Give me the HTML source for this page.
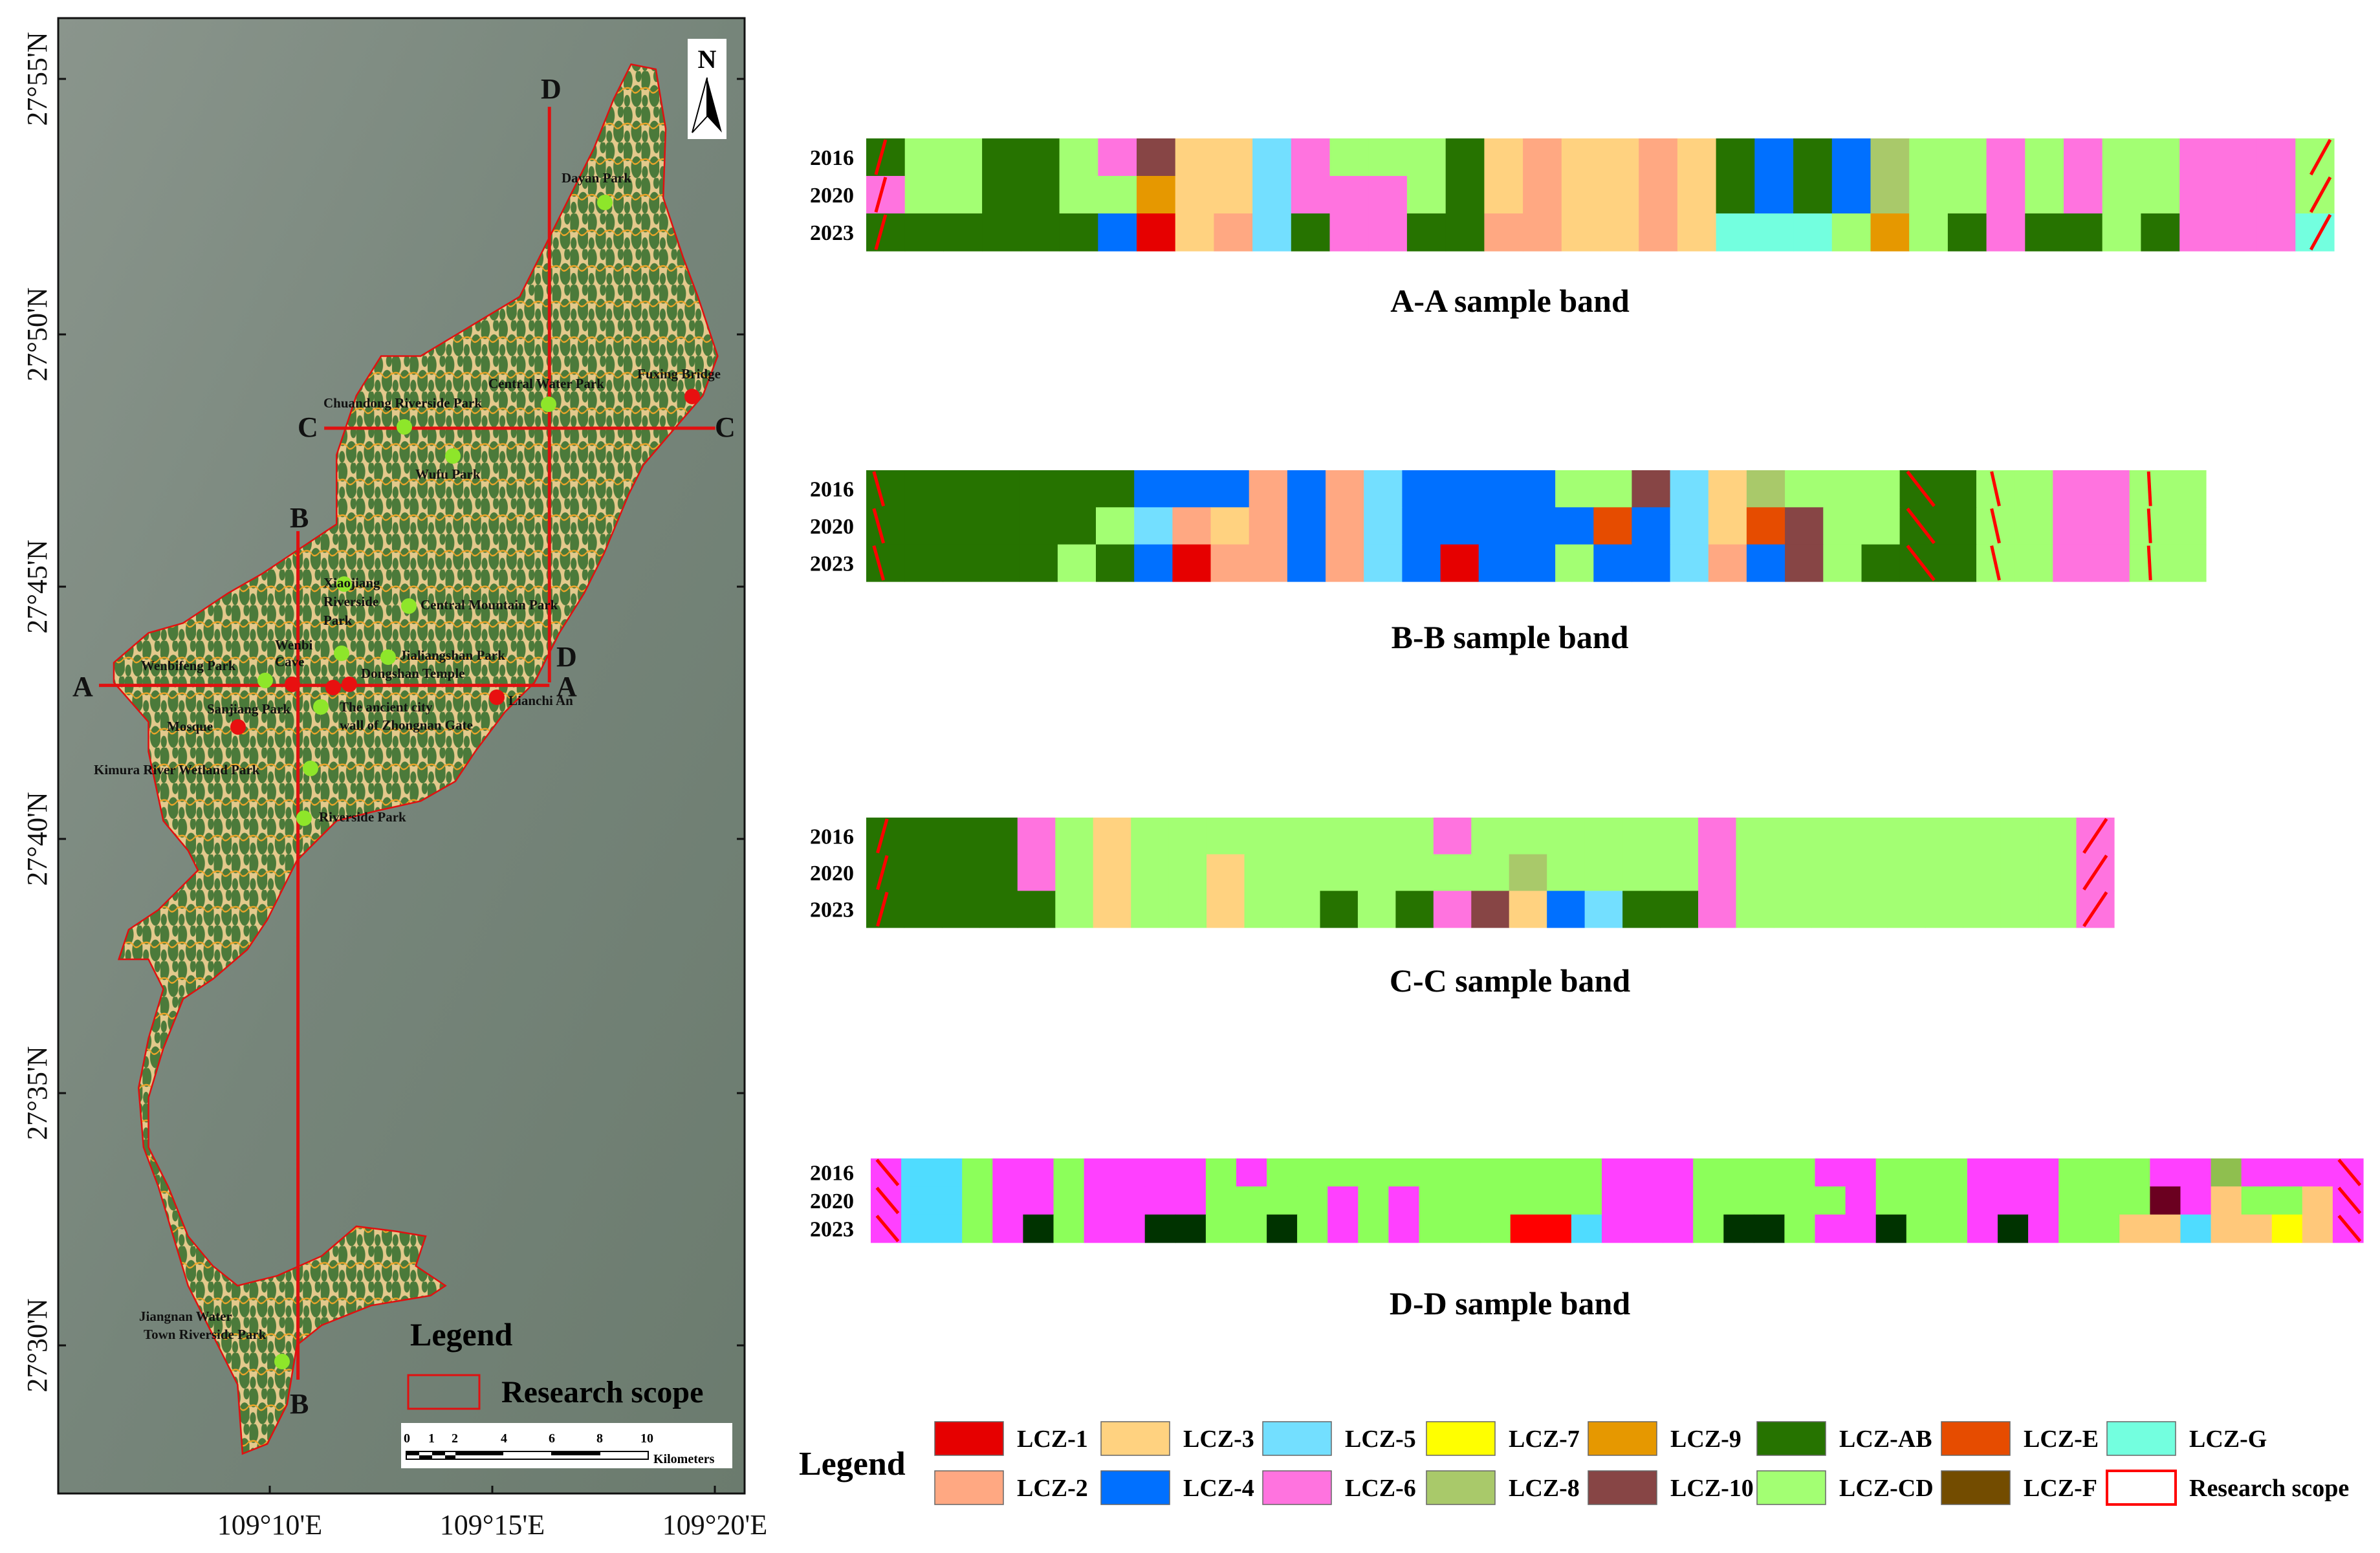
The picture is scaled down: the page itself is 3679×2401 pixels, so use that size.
<!DOCTYPE html>
<html><head><meta charset="utf-8">
<style>
html,body{margin:0;padding:0;background:#fff;}
body{width:3679px;height:2396px;overflow:hidden;position:relative;font-family:"Liberation Serif",serif;}
svg text{font-family:"Liberation Serif",serif;}
</style></head>
<body>
<svg id="root" width="3679" height="2396" viewBox="0 0 3679 2396" xmlns="http://www.w3.org/2000/svg">
<defs>
<pattern id="lcz" width="36" height="36" patternUnits="userSpaceOnUse">
<rect width="36" height="36" fill="#e3c98c"/>
<circle cx="8" cy="9" r="10" fill="#4b7a3a"/>
<circle cx="26" cy="25" r="11" fill="#4b7a3a"/>
<circle cx="30" cy="5" r="6" fill="#4b7a3a"/>
<circle cx="7" cy="30" r="6" fill="#4b7a3a"/>
<path d="M0 18 Q12 15 18 20 T36 17" stroke="#f0a528" stroke-width="1.6" fill="none"/>
</pattern>
<linearGradient id="sat" x1="0" y1="0" x2="1" y2="1">
<stop offset="0" stop-color="#8a958c"/><stop offset="0.5" stop-color="#76857a"/><stop offset="1" stop-color="#6b7b6e"/>
</linearGradient>
</defs>

<!-- ============ MAP ============ -->
<g id="map">
<rect x="90" y="28" width="1061" height="2281" fill="url(#sat)" stroke="#111" stroke-width="3"/>
<g transform="scale(0.7651,1.529)">
<polygon fill="url(#lcz)" stroke="#e01010" stroke-width="2.5" vector-effect="non-scaling-stroke"
points="1275,65 1325,70 1345,130 1340,200 1380,260 1410,300 1450,360 1420,400 1300,470 1270,500 1220,560 1180,600 1130,640 1080,690 1020,720 960,760 920,790 850,810 760,820 680,830 620,860 600,870 570,900 540,930 500,960 430,990 370,1010 330,1060 300,1110 300,1160 340,1200 380,1250 430,1280 480,1300 560,1290 650,1270 720,1240 800,1245 860,1250 840,1280 900,1300 870,1310 750,1320 700,1330 650,1340 600,1360 580,1420 540,1460 490,1470 480,1400 450,1370 420,1340 380,1300 350,1250 320,1200 290,1160 280,1100 300,1050 330,1000 300,970 240,970 260,940 320,920 400,880 380,860 330,830 300,760 300,730 230,690 230,670 300,640 370,630 460,600 530,580 590,560 680,530 680,460 720,400 770,360 850,360 950,330 1050,300 1100,250 1150,200 1200,150 1240,100"/>
<g stroke="#e01010" stroke-width="5" vector-effect="non-scaling-stroke" fill="none">
<line x1="200" y1="693" x2="1110" y2="693" vector-effect="non-scaling-stroke"/>
<line x1="602" y1="537" x2="602" y2="1395" vector-effect="non-scaling-stroke"/>
<line x1="655" y1="433" x2="1445" y2="433" vector-effect="non-scaling-stroke"/>
<line x1="1110" y1="108" x2="1110" y2="690" vector-effect="non-scaling-stroke"/>
</g>
</g>
<g font-weight="bold" font-size="44" fill="#111">
<text x="112" y="1076">A</text><text x="860" y="1076">A</text>
<text x="448" y="815">B</text><text x="448" y="2185">B</text>
<text x="460" y="675">C</text><text x="1105" y="675">C</text>
<text x="836" y="152">D</text><text x="860" y="1030">D</text>
</g>
<g id="poi"></g>
<!-- north arrow -->
<g>
<rect x="1063" y="60" width="60" height="155" fill="#fff"/>
<text x="1093" y="105" text-anchor="middle" font-weight="bold" font-size="40">N</text>
<polygon points="1093,120 1070,205 1093,180" fill="#fff" stroke="#000" stroke-width="2"/>
<polygon points="1093,120 1116,205 1093,180" fill="#000"/>
</g>
<!-- map legend -->
<text x="634" y="2080" font-weight="bold" font-size="50">Legend</text>
<rect x="631" y="2126" width="110" height="52" fill="none" stroke="#e01010" stroke-width="3"/>
<text x="775" y="2168" font-weight="bold" font-size="48">Research scope</text>
<g>
<rect x="620" y="2200" width="512" height="70" fill="#fff"/>
<rect x="628" y="2244" width="374" height="12" fill="#fff" stroke="#000" stroke-width="2"/>
<rect x="628" y="2244" width="20" height="6" fill="#000"/><rect x="668" y="2244" width="20" height="6" fill="#000"/>
<rect x="648" y="2250" width="20" height="6" fill="#000"/><rect x="688" y="2250" width="16" height="6" fill="#000"/>
<rect x="704" y="2244" width="74" height="6" fill="#000"/><rect x="852" y="2244" width="76" height="6" fill="#000"/>
<g font-size="20" font-weight="bold"><text x="624" y="2230">0</text><text x="662" y="2230">1</text><text x="698" y="2230">2</text><text x="774" y="2230">4</text><text x="848" y="2230">6</text><text x="922" y="2230">8</text><text x="990" y="2230">10</text><text x="1010" y="2262">Kilometers</text></g>
</g>
<g id="mapticks" font-size="44" fill="#111"></g>
</g>

<!-- ============ BANDS ============ -->
<g id="bands"></g>

<!-- ============ LEGEND ============ -->
<g id="legend">
<text x="1235" y="2280" font-weight="bold" font-size="52">Legend</text>
</g>
</svg>

<script>
// ---------- Band data (column class codes per year) ----------
const years = ["2016","2020","2023"];
const bandA2016 = "AB CD CD AB AB CD 6 10 3 3 5 6 CD CD CD AB 3 2 3 3 2 3 AB 4 AB 4 8 CD CD 6 CD 6 CD CD 6 6 6 CD".split(" ");
const bandA2020 = "6 CD CD AB AB CD CD 9 3 3 5 6 6 6 CD AB 3 2 3 3 2 3 AB 4 AB 4 8 CD CD 6 CD 6 CD CD 6 6 6 CD".split(" ");
const bandA2023 = "AB AB AB AB AB AB 4 1 3 2 5 AB 6 6 AB AB 2 2 3 3 2 3 G G G CD 9 CD AB 6 AB AB CD AB 6 6 6 G".split(" ");
const bandB2016 = "AB AB AB AB AB AB AB 4 4 4 2 4 2 5 4 4 4 4 CD CD 10 5 3 8 CD CD CD AB AB CD CD 6 6 CD CD".split(" ");
const bandB2020 = "AB AB AB AB AB AB CD 5 2 3 2 4 2 5 4 4 4 4 4 E 4 5 3 E 10 CD CD AB AB CD CD 6 6 CD CD".split(" ");
const bandB2023 = "AB AB AB AB AB CD AB 4 1 2 2 4 2 5 4 1 4 4 CD 4 4 5 2 4 10 CD AB AB AB CD CD 6 6 CD CD".split(" ");
const bandC2016 = "AB AB AB AB 6 CD 3 CD CD CD CD CD CD CD CD 6 CD CD CD CD CD CD 6 CD CD CD CD CD CD CD CD CD 6".split(" ");
const bandC2020 = "AB AB AB AB 6 CD 3 CD CD 3 CD CD CD CD CD CD CD 8 CD CD CD CD 6 CD CD CD CD CD CD CD CD CD 6".split(" ");
const bandC2023 = "AB AB AB AB AB CD 3 CD CD 3 CD CD AB CD AB 6 10 3 4 5 AB AB 6 CD CD CD CD CD CD CD CD CD 6".split(" ");
const bandD2016 = "P S S N P P N P P P P N P N N N N N N N N N N N P P P N N N N P P N N N P P P N N N P P V P P P P".split(" ");
const bandD2020 = "P S S N P P N P P P P N N N N P N P N N N N N N P P P N N N N N P N N N P P P N N N M P O N N O P".split(" ");
const bandD2023 = "P S S N P K N P P K K N N K N P N P N N N R R S P P P N K K N P P K N N P K P N N O O S O O Y O P".split(" ");
const bandTitles = ["A-A sample band","B-B sample band","C-C sample band","D-D sample band"];
const legendCodes = ["1","3","5","7","9","AB","E","G","2","4","6","8","10","CD","F","RS"];
const legendLabels = ["LCZ-1","LCZ-3","LCZ-5","LCZ-7","LCZ-9","LCZ-AB","LCZ-E","LCZ-G","LCZ-2","LCZ-4","LCZ-6","LCZ-8","LCZ-10","LCZ-CD","LCZ-F","Research scope"];

const palette = {"1":"#e60000","2":"#ffa882","3":"#ffd280","4":"#0070ff","5":"#73dfff","6":"#ff73df","7":"#ffff00","8":"#a9c96a","9":"#e69800","10":"#874545","AB":"#267300","CD":"#a3ff73","E":"#e64c00","F":"#734c00","G":"#73ffdf",
 "P":"#ff40ff","S":"#4fdcff","N":"#8cff5a","K":"#003300","O":"#ffc87a","M":"#6b0020","V":"#8fbf4f","R":"#ff0000","Y":"#ffff00"};

const NS="http://www.w3.org/2000/svg";
function mk(tag,attrs,parent){const e=document.createElementNS(NS,tag);for(const k in attrs)e.setAttribute(k,attrs[k]);if(parent)parent.appendChild(e);return e;}

const bandsG=document.getElementById('bands');
const bandLayout=[
 {x0:1339,x1:3608,y0:214,y1:388,title:465,data:[bandA2016,bandA2020,bandA2023],marks:[[0.25,0.5],[37.4,37.9]]},
 {x0:1339,x1:3410,y0:727,y1:899,title:985,data:[bandB2016,bandB2020,bandB2023],marks:[[0.2,0.45],[27.2,27.9],[29.4,29.6],[33.5,33.55]]},
 {x0:1339,x1:3268,y0:1264,y1:1434,title:1516,data:[bandC2016,bandC2020,bandC2023],marks:[[0.3,0.55],[32.2,32.8]]},
 {x0:1346,x1:3653,y0:1791,y1:1921,title:2015,data:[bandD2016,bandD2020,bandD2023],marks:[[0.2,0.9],[48.2,48.9]]}
];
bandLayout.forEach((b,bi)=>{
 const g=mk('g',{},bandsG);
 
 
 const n=b.data[0].length;
 const xs=i=>b.x0+(b.x1-b.x0)*i/n;
 const rh=(b.y1-b.y0)/3;
 b.data.forEach((row,ri)=>{
  const y=b.y0+rh*ri;
  row.forEach((c,ci)=>{
   const r=mk('rect',{x:xs(ci).toFixed(1),y:y.toFixed(1),width:(xs(ci+1)-xs(ci)+0.6).toFixed(1),height:(rh+0.6).toFixed(1),fill:palette[c]},g);
   
   
  });
  const t=mk('text',{x:1320,y:(y+rh/2+12).toFixed(1),'text-anchor':'end','font-size':34,'font-weight':'bold'},g);
  t.textContent=years[ri];
  
  
 });
 // red research-scope boundary marks
 b.marks.forEach(m=>{
  for(let ri=0;ri<3;ri++){
   const y=b.y0+rh*ri;
   const a=xs(m[0]),c=xs(m[1]);
   const down=(bi===3||bi===1);
   const l=mk('line',{x1:down?a:c,y1:y+2,x2:down?c:a,y2:y+rh-2,stroke:'#ff0000','stroke-width':5},g);
   
   
  }
 });
 const tt=mk('text',{x:2334,y:b.title+17,'text-anchor':'middle','font-size':50,'font-weight':'bold'},g);
 tt.textContent=bandTitles[bi];
 
 
});

// legend
const lg=document.getElementById('legend');
const lx=[1445,1702,1952,2205,2455,2716,3001,3257];
legendCodes.forEach((c,i)=>{
 const col=i%8,row=Math.floor(i/8);
 const y=row?2274:2198;
 const r=mk('rect',{x:lx[col],y:y,width:106,height:52,fill:c==='RS'?'#fff':palette[c],stroke:c==='RS'?'#ff0000':'#666','stroke-width':c==='RS'?4:1.5},lg);
 
 
 const t=mk('text',{x:lx[col]+127,y:y+39,'font-size':38,'font-weight':'bold'},lg);
 t.textContent=legendLabels[i];
 
 
});

// map ticks
const mt=document.getElementById('mapticks');
const latLabels=["27°55'N","27°50'N","27°45'N","27°40'N","27°35'N","27°30'N"];
const latY=[122,517,907,1297,1690,2080];
latLabels.forEach((s,i)=>{
 const t=mk('text',{x:0,y:0,transform:'translate(72,'+latY[i]+') rotate(-90)','text-anchor':'middle'},mt);
 t.textContent=s;
 
 
 mk('line',{x1:90,x2:102,y1:latY[i],y2:latY[i],stroke:'#111','stroke-width':3},mt);
 mk('line',{x1:1139,x2:1151,y1:latY[i],y2:latY[i],stroke:'#111','stroke-width':3},mt);
});
const lonLabels=["109°10'E","109°15'E","109°20'E"];
const lonX=[417,761,1105];
lonLabels.forEach((s,i)=>{
 const t=mk('text',{x:lonX[i],y:2372,'text-anchor':'middle'},mt);
 t.textContent=s;
 
 
 mk('line',{x1:lonX[i],x2:lonX[i],y1:2297,y2:2309,stroke:'#111','stroke-width':3},mt);
});

// points of interest
const poiG=document.getElementById('poi');
const pois=[["Dayan Park",935,313,1,'g'],["Central Water Park",848,625,1,'g'],["Fuxing Bridge",1070,613,1,'r'],["Chuandong Riverside Park",625,660,1,'g'],["Wufu Park",700,705,1,'g'],
["Central Mountain Park",632,937,1,'g'],["Xiaojiang",532,903,0,'g'],["Jialiangshan Park",600,1016,1,'g'],["Wenbifeng Park",410,1052,1,'g'],["Wenbi Cave",452,1058,0,'r'],
["Dongshan Temple",540,1058,1,'r'],["Lianchi An",768,1078,1,'r'],["Sanjiang Park",496,1093,0,'g'],["Mosque",368,1124,1,'r'],["Kimura River Wetland Park",480,1188,1,'g'],["Riverside Park",470,1265,1,'g'],["Jiangnan Water Town Riverside Park",436,2105,1,'g'],["",515,1063,0,'r'],["",528,1010,0,'g']];
pois.forEach(p=>{
 const c=mk('ellipse',{cx:p[1],cy:p[2],rx:12,ry:12,fill:p[4]==='g'?'#8ee62a':'#e81010'},poiG);
 
 
});
const lbls=[["Dayan Park",868,282],["Central Water Park",755,600],["Fuxing Bridge",985,585],["Chuandong Riverside Park",500,630],["Wufu Park",642,740],
["Xiaojiang",500,908],["Riverside",500,937],["Park",500,966],["Central Mountain Park",650,942],["Jialiangshan Park",618,1020],["Wenbifeng Park",218,1036],["Wenbi",425,1004],["Cave",425,1030],
["Dongshan Temple",558,1048],["Lianchi An",786,1090],["Sanjiang Park",320,1103],["The ancient city",525,1100],["wall of Zhongnan Gate",525,1128],["Mosque",258,1130],["Kimura River Wetland Park",145,1197],["Riverside Park",493,1270],["Jiangnan Water",215,2042],["Town Riverside Park",222,2070]];
lbls.forEach(l=>{
 const t=mk('text',{x:l[1],y:l[2],'font-size':21,'font-weight':'bold',fill:'#111'},poiG);
 t.textContent=l[0];
 
 
});
</script>
</body></html>
